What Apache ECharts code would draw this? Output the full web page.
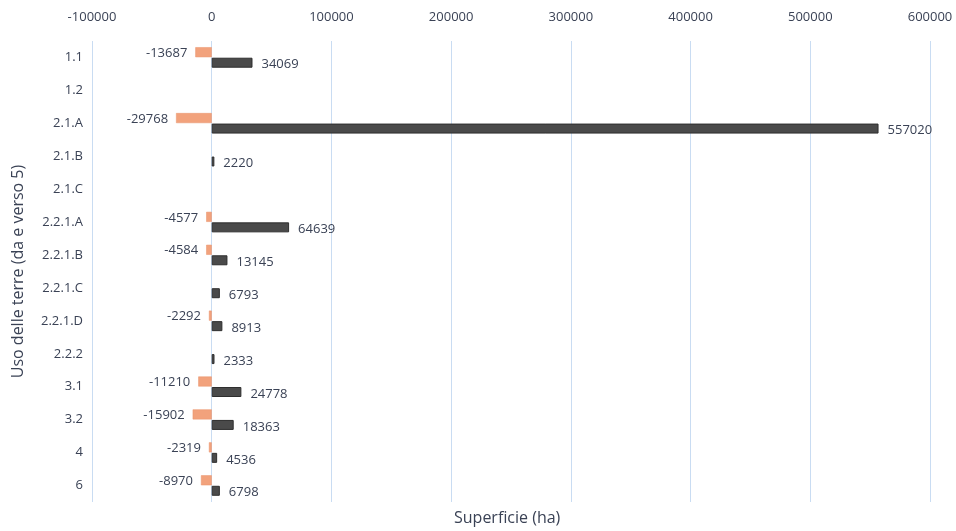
<!DOCTYPE html>
<html><head><meta charset="utf-8">
<script src="https://cdn.jsdelivr.net/npm/echarts@6/dist/echarts.min.js"></script>
<style>html,body{margin:0;padding:0;background:#fff}#c{width:956px;height:531px}</style>
</head><body><div id="c"></div>
<script>
const categories = ['1.1','1.2','2.1.A','2.1.B','2.1.C','2.2.1.A','2.2.1.B','2.2.1.C','2.2.1.D','2.2.2','3.1','3.2','4','6'];
const outValues = [-13687, null, -29768, null, null, -4577, -4584, null, -2292, null, -11210, -15902, -2319, -8970];
const inValues = [34069, null, 557020, 2220, null, 64639, 13145, 6793, 8913, 2333, 24778, 18363, 4536, 6798];
const xTicks = {min: -100000, max: 600000, interval: 100000};

const chart = echarts.init(document.getElementById('c'));
const txt = '#3a4255';
const font = 'Open Sans';
chart.setOption({
  animation: false,
  grid: {left: 92, right: 26, top: 41, bottom: 29},
  xAxis: {
    type: 'value', position: 'top', min: xTicks.min, max: xTicks.max, interval: xTicks.interval,
    axisLine: {show: false}, axisTick: {show: false},
    axisLabel: {color: txt, fontSize: 13, fontFamily: font, margin: 17, formatter: v => String(v)},
    splitLine: {lineStyle: {color: '#c9dcf2', width: 1}}
  },
  yAxis: {
    type: 'category', data: categories, inverse: true,
    axisLine: {show: false}, axisTick: {show: false},
    axisLabel: {color: txt, fontSize: 13, fontFamily: font, margin: 9},
    name: 'Uso delle terre (da e verso 5)', nameLocation: 'middle', nameGap: 66,
    nameTextStyle: {color: txt, fontSize: 16, fontFamily: font}
  },
  graphic: [{type: 'text', left: 454, top: 510, style: {text: 'Superficie (ha)', fill: txt, fontSize: 16, fontFamily: font}}],
  series: [
    {type: 'bar', data: outValues, barWidth: 10, barGap: '5%',
     itemStyle: {color: '#f2a27c', borderColor: '#e9936b', borderWidth: 0.5},
     label: {show: true, position: 'left', distance: 8, color: txt, fontSize: 13, fontFamily: font, offset: [0, 1]}},
    {type: 'bar', data: inValues, barWidth: 10,
     itemStyle: {color: '#4a4a4a', borderColor: '#2e2e2e', borderWidth: 1},
     label: {show: true, position: 'right', distance: 9, color: txt, fontSize: 13, fontFamily: font, offset: [0, 2]}}
  ]
});
</script></body></html>
